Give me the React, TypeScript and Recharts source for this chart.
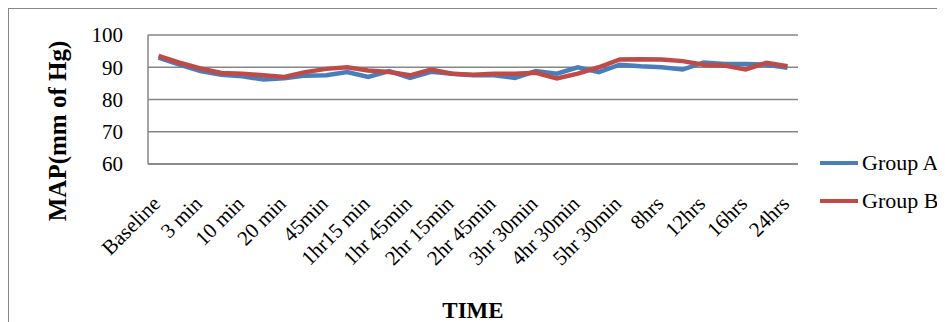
import { CartesianGrid, Label, Line, LineChart, XAxis, YAxis } from "recharts";

const times = [
  "Baseline", "1 min", "3 min", "5 min", "10 min", "15 min", "20 min", "30 min", "45min", "1hr",
  "1hr15 min", "1hr 30min", "1hr 45min", "2hr", "2hr 15min", "2hr 30min", "2hr 45min", "3hr",
  "3hr 30min", "4hr", "4hr 30min", "5hr", "5hr 30min", "6hrs", "8hrs", "10hrs", "12hrs", "14hrs",
  "16hrs", "20hrs", "24hrs",
];
const groupA = [
  93, 90.8, 88.8, 87.7, 87.2, 86.2, 86.6, 87.4, 87.5, 88.5, 87, 88.8, 86.7, 88.6, 88, 87.5,
  87.5, 86.7, 88.8, 88, 90, 88.5, 90.8, 90.3, 90, 89.3, 91.5, 91, 91, 90.8, 89.8,
];
const groupB = [
  93.5, 91.4, 89.6, 88.2, 88, 87.5, 87, 88.5, 89.5, 90, 89, 88.5, 87.5, 89.3, 88, 87.7,
  88, 88, 88.3, 86.5, 88, 90, 92.4, 92.5, 92.4, 91.9, 90.8, 90.5, 89.3, 91.4, 90.3,
];
const yTicks = [60, 70, 80, 90, 100];
const seriesNames = ["Group A", "Group B"];

const data = times.map((t, i) => ({ t, a: groupA[i], b: groupB[i] }));

const FONT = '"Liberation Serif", "Times New Roman", serif';
const GRID = "#868686";
const BLUE = "#4a7ebb";
const RED = "#be4b48";

function TimeTick({ x, y, payload }: any) {
  const tx = x + 3;
  const ty = y + 41;
  return (
    <text
      x={tx}
      y={ty}
      transform={`rotate(-45, ${tx}, ${ty})`}
      textAnchor="end"
      fontFamily={FONT}
      fontSize={21}
      fill="#000"
    >
      {payload.value}
    </text>
  );
}

export default function App() {
  const colors = [BLUE, RED];
  return (
    <div
      style={{
        position: "relative",
        width: 936,
        height: 313,
        borderLeft: "1px solid #888",
        borderTop: "1px solid #888",
        background: "#fff",
        overflow: "hidden",
      }}
    >
      <LineChart width={936} height={313} data={data} margin={{ top: 26, right: 147, left: 0, bottom: 0 }}>
        <CartesianGrid vertical={false} stroke={GRID} strokeWidth={1.5} />
        <XAxis
          dataKey="t"
          interval={1}
          height={158}
          padding={{ left: 10.5, right: 10.5 }}
          axisLine={{ stroke: GRID, strokeWidth: 1.5 }}
          tickLine={false}
          tickSize={0}
          tickMargin={0}
          tick={<TimeTick />}
        >
          <Label
            content={({ viewBox }: any) => (
              <text
                x={viewBox.x + viewBox.width / 2}
                y={309}
                textAnchor="middle"
                fontFamily={FONT}
                fontWeight="bold"
                fontSize={23}
                fill="#000"
              >
                TIME
              </text>
            )}
          />
        </XAxis>
        <YAxis
          domain={[60, 100]}
          ticks={yTicks}
          width={139}
          axisLine={{ stroke: GRID, strokeWidth: 1.5 }}
          tickLine={false}
          tickSize={6}
          tickMargin={19}
          tick={{ fontFamily: FONT, fontSize: 21, fill: "#000" }}
        />
        <Line
          type="linear"
          dataKey="a"
          name={seriesNames[0]}
          stroke={BLUE}
          strokeWidth={4.5}
          dot={false}
          isAnimationActive={false}
        />
        <Line
          type="linear"
          dataKey="b"
          name={seriesNames[1]}
          stroke={RED}
          strokeWidth={4.5}
          dot={false}
          isAnimationActive={false}
        />
      </LineChart>
      {/* y-axis title, rotated about its centre */}
      <div
        style={{
          position: "absolute",
          left: 49 - 150,
          top: 122 - 14,
          width: 300,
          height: 28,
          lineHeight: "28px",
          textAlign: "center",
          transform: "rotate(-90deg)",
          fontFamily: FONT,
          fontWeight: "bold",
          fontSize: 25,
          color: "#000",
          whiteSpace: "nowrap",
        }}
      >
        MAP(mm of Hg)
      </div>
      <div style={{ position: "absolute", left: 811, top: 135, fontFamily: FONT, fontSize: 22, color: "#000" }}>
        {seriesNames.map((name, i) => (
          <div key={name} style={{ display: "flex", alignItems: "center", height: 38, whiteSpace: "nowrap" }}>
            <span style={{ display: "inline-block", width: 38, height: 4, background: colors[i], marginRight: 4 }} />
            <span>{name}</span>
          </div>
        ))}
      </div>
    </div>
  );
}
